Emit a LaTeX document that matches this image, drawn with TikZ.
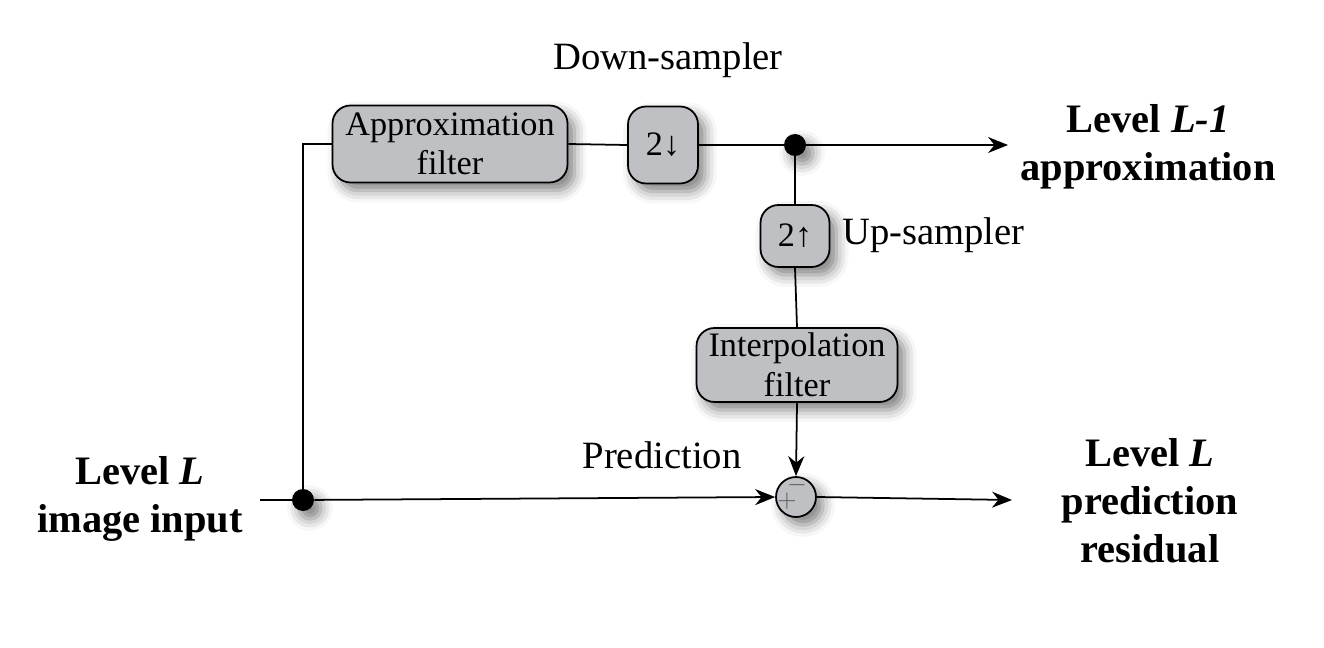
\documentclass[tikz,border=0pt]{standalone}
\usepackage{fontspec}
\setmainfont{Liberation Serif}
\usetikzlibrary{arrows.meta,shadows.blur}

\definecolor{boxgray}{RGB}{190,192,196}
\tikzset{%
  softshadow/.style={blur shadow={shadow xshift=0.14cm, shadow yshift=-0.16cm, shadow blur radius=0.24cm, shadow opacity=50}},%
  filterbox/.style={draw, line width=1pt, fill=boxgray, rounded corners=0.36cm, align=center, inner sep=0pt, font=\fontsize{19.5}{22.5}\selectfont, softshadow},%
  joindot/.style={circle, fill=black, inner sep=0pt, minimum size=0.44cm, softshadow},%
  sumnode/.style={circle, draw, line width=1pt, fill=boxgray, inner sep=0pt, minimum size=0.8cm, softshadow},%
  signlabel/.style={font=\fontsize{15}{15}\selectfont, text=black!65, inner sep=0pt},%
  plainlabel/.style={font=\fontsize{22}{26}\selectfont},%
  boldlabel/.style={align=center, font=\bfseries\fontsize{23}{27.2}\selectfont},%
  flow/.style={line width=1pt, -{Stealth[length=0.4cm, width=0.32cm]}},%
  wire/.style={line width=1pt}%
}

\begin{document}
\begin{tikzpicture}[x=0.02cm, y=-0.02cm]%
\useasboundingbox (0, 0) rectangle (1324, 648);%
% boxes
\node[filterbox, minimum width=4.7cm, minimum height=1.54cm] (approx) at (450, 144) {Approximation\\filter};%
\node[filterbox, minimum width=1.4cm, minimum height=1.54cm] (down) at (663, 145) {2↓};%
\node[filterbox, minimum width=1.38cm, minimum height=1.24cm] (up) at (795, 236) {2↑};%
\node[filterbox, minimum width=4.02cm, minimum height=1.48cm] (interp) at (797, 365) {Interpolation\\filter};%
\node[sumnode] (sum) at (796, 497) {};%
\node[signlabel] (plus) at (787, 501) {$+$};%
\node[signlabel] (minus) at (797, 485) {$-$};%
% dots and ends
\node[joindot] (split) at (795, 145) {};%
\node[joindot] (indot) at (303, 500) {};%
\coordinate (inp) at (260, 500);%
\coordinate (outapprox) at (1008, 145);%
\coordinate (outres) at (1012, 500);%
% wires
\draw[wire] (indot) |- (approx.west);%
\draw[wire] (approx.east) -- (down.west);%
\draw[wire] (down.east) -- (split);%
\draw[flow] (split) -- (outapprox);%
\draw[wire] (split) -- (up.north);%
\draw[wire] (up.south) -- (interp.north);%
\draw[flow] (interp.south) -- (sum.north);%
\draw[wire] (inp) -- (indot);%
\draw[flow] (indot) -- (sum.west);%
\draw[flow] (sum.east) -- (outres);%
% labels
\node[plainlabel] (downlbl) at (668, 60) {Down-sampler};%
\node[plainlabel, anchor=west] (uplbl) at (836, 235) {Up-sampler};%
\node[plainlabel] (predlbl) at (662, 455) {Prediction};%
\node[boldlabel] (lvlout) at (1148, 147) {Level \textit{L-1}\\approximation};%
\node[boldlabel] (lvlin) at (140, 499) {Level \textit{L}\\image input};%
\node[boldlabel] (lvlres) at (1150, 501) {Level \textit{L}\\prediction\\residual};%
\end{tikzpicture}
\end{document}
